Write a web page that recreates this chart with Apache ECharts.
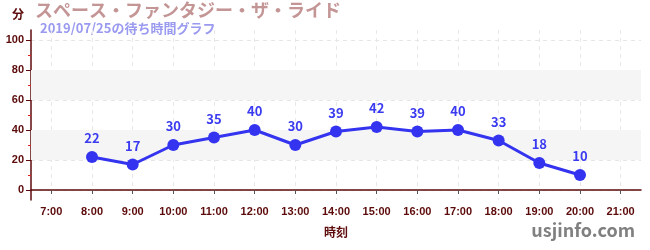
<!DOCTYPE html>
<html><head><meta charset="utf-8">
<script src="https://cdn.jsdelivr.net/npm/echarts@6/dist/echarts.min.js"></script>
<style>html,body{margin:0;padding:0;background:#fff}#c{width:650px;height:250px}</style>
</head><body><div id="c"></div>
<script>
const hours = [8, 9, 10, 11, 12, 13, 14, 15, 16, 17, 18, 19, 20];
const waits = [22, 17, 30, 35, 40, 30, 39, 42, 39, 40, 33, 18, 10];
const xTicks = [7, 8, 9, 10, 11, 12, 13, 14, 15, 16, 17, 18, 19, 20, 21];
const yTicks = [0, 20, 40, 60, 80, 100];
const yMinorTicks = [10, 30, 50, 70, 90];
const bands = [[20, 40], [60, 80]];
const titleText = 'スペース・ファンタジー・ザ・ライド';
const subText = '2019/07/25の待ち時間グラフ';

const dark = '#5c0a0a';
const font = '"Noto Sans CJK JP", "Noto Sans", sans-serif';
const chart = echarts.init(document.getElementById('c'));
const yBase = {
  type: 'value', min: -6.67, max: 106.67, position: 'left'
};
chart.setOption({
  animation: false,
  textStyle: { fontFamily: font },
  grid: { left: 31, right: 9, top: 30, bottom: 50, containLabel: false },
  graphic: [
    { type: 'text', left: 12, top: 8, style: { text: '分', fill: dark, font: 'bold 12px ' + font } },
    { type: 'text', left: 35, top: 1, style: { text: titleText, fill: '#c49595', font: 'bold 18px ' + font } },
    { type: 'text', left: 40, top: 22, style: { text: subText, fill: '#9a9af0', font: 'bold 13px ' + font } },
    { type: 'text', right: 15, top: 221, style: { text: 'usjinfo.com', fill: '#808080', font: 'bold 18px ' + font } }
  ],
  xAxis: {
    type: 'value', min: 6.5, max: 21.5,
    name: '時刻', nameLocation: 'middle', nameGap: 26,
    nameTextStyle: { color: dark, fontWeight: 'bold', fontSize: 12, fontFamily: font },
    axisLine: { lineStyle: { color: dark, width: 1.5 } },
    axisTick: { show: true, customValues: xTicks, length: 4, lineStyle: { color: '#555' } },
    axisLabel: { customValues: xTicks, formatter: v => v + ':00', color: dark, fontWeight: 'bold', fontSize: 11, margin: 6, fontFamily: 'Liberation Sans, sans-serif' },
    splitLine: { show: true, lineStyle: { color: '#e8e8e8', type: [4, 4] } }
  },
  yAxis: [
    Object.assign({}, yBase, {
      axisLine: { show: true, lineStyle: { color: dark, width: 1.5 } },
      axisTick: { show: true, customValues: yTicks, length: 5, lineStyle: { color: dark } },
      axisLabel: { customValues: yTicks, color: dark, fontWeight: 'bold', fontSize: 11, margin: 7, fontFamily: 'Liberation Sans, sans-serif' },
      splitLine: { show: true, lineStyle: { color: '#e6e6e6', type: [4, 4] } }
    }),
    Object.assign({}, yBase, {
      axisLine: { show: false },
      axisTick: { show: true, customValues: yMinorTicks, length: 3, lineStyle: { color: '#e02020' } },
      axisLabel: { show: false },
      splitLine: { show: false }
    })
  ],
  series: [{
    type: 'line',
    data: hours.map((h, i) => [h, waits[i]]),
    symbol: 'circle', symbolSize: 12,
    itemStyle: { color: '#3333f0' },
    lineStyle: { color: '#3333f0', width: 3 },
    label: { show: true, position: 'top', distance: 6, color: '#3a3af0', fontWeight: 'bold', fontSize: 13 },
    markArea: {
      silent: true,
      itemStyle: { color: '#f5f5f5' },
      data: bands.map(b => [{ yAxis: b[0] }, { yAxis: b[1] }])
    },
    z: 5
  }]
});
</script></body></html>
